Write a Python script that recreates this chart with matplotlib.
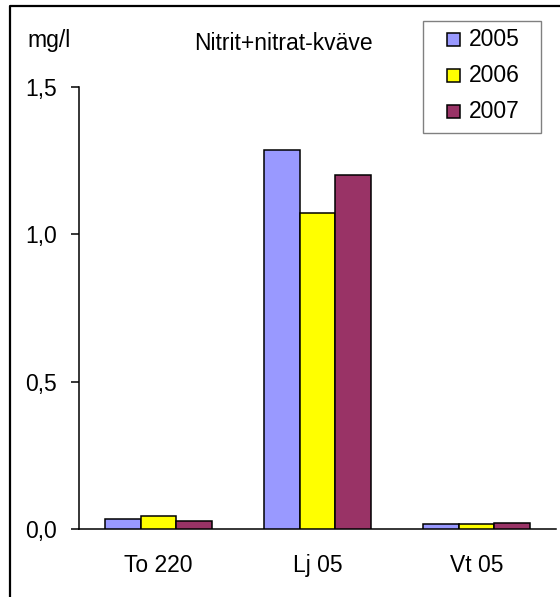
"""Nitrit+nitrat-kväve, grouped bars per station and year."""

import numpy as np
import matplotlib
matplotlib.use("Agg")
import matplotlib.pyplot as plt
from matplotlib.patches import Rectangle
from matplotlib.lines import Line2D

plt.rcParams['font.family'] = ['Liberation Sans', 'DejaVu Sans']

# data
stations = ['To 220', 'Lj 05', 'Vt 05']
years = ['2005', '2006', '2007']
values_2005 = [0.034, 1.285, 0.016]
values_2006 = [0.043, 1.072, 0.016]
values_2007 = [0.027, 1.200, 0.021]
y_ticks = [0.0, 0.5, 1.0, 1.5]
y_tick_labels = ['0,0', '0,5', '1,0', '1,5']

colors = ['#9999FF', '#FFFF00', '#993366']
FS = 16.5

W, H = 560, 597
fig = plt.figure(figsize=(W / 100, H / 100), dpi=100)
ax = fig.add_axes([79 / W, 68 / H, (556 - 79) / W, (529 - 87) / H])

x = np.arange(len(stations))
bar_w = 0.224
series = [values_2005, values_2006, values_2007]
for i, (vals, col) in enumerate(zip(series, colors)):
    ax.bar(x + (i - 1) * bar_w, vals, width=bar_w, color=col,
           edgecolor='black', linewidth=1.1, zorder=3)

ax.set_xlim(-0.5, 2.5)
ax.set_ylim(0, 1.5)
ax.set_xticks(x)
ax.set_xticklabels(stations, fontsize=FS)
ax.set_yticks(y_ticks)
ax.set_yticklabels(y_tick_labels, fontsize=FS)
ax.tick_params(axis='x', length=0, pad=18)
ax.tick_params(axis='y', direction='out', length=6, width=1.1, pad=10)

for s in ['top', 'right']:
    ax.spines[s].set_visible(False)
for s in ['left', 'bottom']:
    ax.spines[s].set_linewidth(1.1)

# texts
fig.text(283 / W, 1 - 43 / H, 'Nitrit+nitrat-kväve', fontsize=FS,
         ha='center', va='center')
fig.text(49 / W, 1 - 41 / H, 'mg/l', fontsize=FS, ha='center', va='center')

# legend, drawn by hand to get the Excel-like box proportions
px = lambda v: v / W
py = lambda v: 1 - v / H
fig.add_artist(Rectangle((px(423), py(133)), px(541) - px(423), py(21) - py(133),
                         transform=fig.transFigure, facecolor='white',
                         edgecolor='#808080', linewidth=1.0))
row_y = [39.5, 75.5, 111.5]
for yr, col, ry in zip(years, colors, row_y):
    fig.add_artist(Rectangle((px(447), py(ry + 6.5)), px(460) - px(447), 13 / H,
                             transform=fig.transFigure, facecolor=col,
                             edgecolor='black', linewidth=1.1))
    fig.text(px(469), py(ry), yr, fontsize=FS, ha='left', va='center')

# outer frame (left and top only are visible in the crop)
fig.add_artist(Line2D([10 / W, 10 / W, 1.0], [0.0, 1 - 6 / H, 1 - 6 / H],
                      transform=fig.transFigure, color='black', linewidth=1.6))

fig.savefig('out.png', dpi=100)
plt.close(fig)
